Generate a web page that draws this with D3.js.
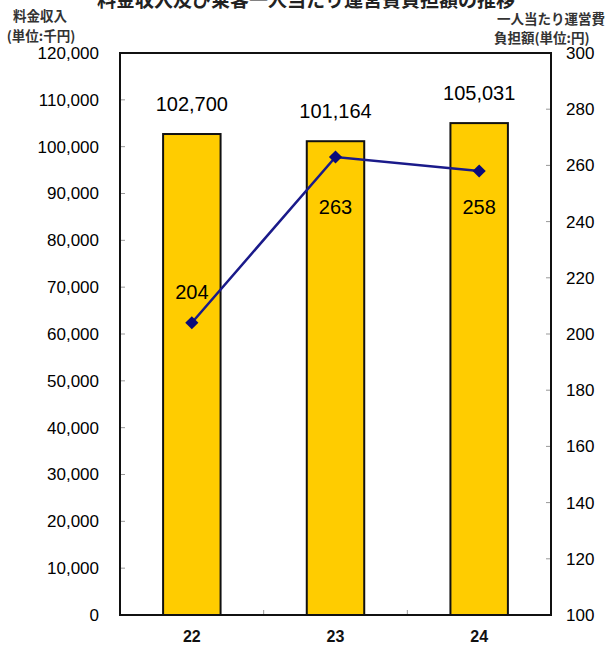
<!DOCTYPE html>
<html>
<head>
<meta charset="utf-8">
<script src="https://cdn.jsdelivr.net/npm/d3@7"></script>
<style>
  body { margin: 0; background: #fff; }
  svg { display: block; }
</style>
</head>
<body>
<svg id="chart"></svg>
<script>
// DATA
const years = ["22", "23", "24"];
const revenue = [102700, 101164, 105031];      // 料金収入 (千円)
const perPerson = [204, 263, 258];             // 一人当たり運営費負担額 (円)
const leftTicks = [0, 10000, 20000, 30000, 40000, 50000, 60000, 70000, 80000, 90000, 100000, 110000, 120000];
const rightTicks = [100, 120, 140, 160, 180, 200, 220, 240, 260, 280, 300];

// label offsets for the line values (px, relative to point)
const lineLabelDy = [-31, 50, 36];

const W = 608, H = 645;
const margin = { top: 53, right: 57, bottom: 30, left: 120 };
const width = W - margin.left - margin.right;
const height = H - margin.top - margin.bottom;
const numFont = "Liberation Sans, Arial, sans-serif";
const jpFont = "'Noto Sans CJK JP', sans-serif";

const svg = d3.select("#chart").attr("width", W).attr("height", H);

//TITLE (cut at top edge like the source image)
svg.append("text")
  .attr("x", 306).attr("y", 7)
  .attr("text-anchor", "middle")
  .style("font-family", jpFont).style("font-weight", "bold")
  .style("font-size", "19px").style("fill", "#222")
  .text("料金収入及び乗客一人当たり運営費負担額の推移");

//AXIS TITLES
function axisTitle(x, y, anchor, txt) {
  svg.append("text").attr("x", x).attr("y", y).attr("text-anchor", anchor)
    .style("font-family", jpFont).style("font-weight", "bold")
    .style("font-size", "13.5px").style("fill", "#333")
    .text(txt);
}
axisTitle(40, 21, "middle", "料金収入");
axisTitle(41, 41, "middle", "(単位:千円)");
axisTitle(605, 24, "end", "一人当たり運営費");
axisTitle(494, 43, "start", "負担額(単位:円)");

const g = svg.append("g").attr("transform", "translate(" + margin.left + "," + margin.top + ")");

//SCALES
const x = d3.scaleBand().domain(years).range([0, width]).paddingInner(0.6).paddingOuter(0.3);
const yL = d3.scaleLinear().domain([0, 120000]).range([height, 0]);
const yR = d3.scaleLinear().domain([100, 300]).range([height, 0]);

//LEFT AXIS
const left = g.append("g")
  .call(d3.axisLeft(yL).tickValues(leftTicks).tickSize(0).tickPadding(21).tickFormat(d3.format(",")));
left.select(".domain").remove();
left.selectAll("text").style("font-family", numFont).style("font-size", "17px").style("fill", "#000");
g.append("g").selectAll("line").data(leftTicks).enter().append("line")
  .attr("x1", 0).attr("x2", 5).attr("y1", d => yL(d)).attr("y2", d => yL(d))
  .attr("stroke", "#999").attr("stroke-width", 1);

//RIGHT AXIS
const right = g.append("g").attr("transform", "translate(" + width + ",0)")
  .call(d3.axisRight(yR).tickValues(rightTicks).tickSize(0).tickPadding(15));
right.select(".domain").remove();
right.selectAll("text").style("font-family", numFont).style("font-size", "17px").style("fill", "#000");
g.append("g").selectAll("line").data(rightTicks).enter().append("line")
  .attr("x1", width - 5).attr("x2", width).attr("y1", d => yR(d)).attr("y2", d => yR(d))
  .attr("stroke", "#999").attr("stroke-width", 1);

//BOTTOM AXIS
const bottom = g.append("g").attr("transform", "translate(0," + height + ")")
  .call(d3.axisBottom(x).tickSize(0).tickPadding(16));
bottom.select(".domain").remove();
bottom.selectAll("text").style("font-family", numFont).style("font-size", "16px")
  .style("font-weight", "bold").style("fill", "#111");
// category separator ticks
g.append("g").selectAll("line").data(years.slice(1)).enter().append("line")
  .attr("x1", d => x(d) - x.step() * x.paddingInner() / 2)
  .attr("x2", d => x(d) - x.step() * x.paddingInner() / 2)
  .attr("y1", height).attr("y2", height - 5)
  .attr("stroke", "#999").attr("stroke-width", 1);

//BARS
g.selectAll(".bar").data(revenue).enter().append("rect")
  .attr("class", "bar")
  .attr("x", (d, i) => x(years[i]))
  .attr("y", d => yL(d))
  .attr("width", x.bandwidth())
  .attr("height", d => height - yL(d))
  .attr("fill", "#FFCC00")
  .attr("stroke", "#111")
  .attr("stroke-width", 2);

//FRAME
g.append("rect").attr("x", 0).attr("y", 0).attr("width", width).attr("height", height)
  .attr("fill", "none").attr("stroke", "#111").attr("stroke-width", 2);

//BAR LABELS
g.selectAll(".barlabel").data(revenue).enter().append("text")
  .attr("x", (d, i) => x(years[i]) + x.bandwidth() / 2)
  .attr("y", d => yL(d) - 23)
  .attr("text-anchor", "middle")
  .style("font-family", numFont).style("font-size", "20px").style("fill", "#000")
  .text(d => d3.format(",")(d));

//LINE
const line = d3.line()
  .x((d, i) => x(years[i]) + x.bandwidth() / 2)
  .y(d => yR(d));
g.append("path").datum(perPerson)
  .attr("fill", "none").attr("stroke", "#1a1a8a").attr("stroke-width", 2.5)
  .attr("d", line);

g.selectAll(".marker").data(perPerson).enter().append("path")
  .attr("transform", (d, i) => "translate(" + (x(years[i]) + x.bandwidth() / 2) + "," + yR(d) + ")")
  .attr("d", d3.symbol().type(d3.symbolDiamond2).size(110))
  .attr("fill", "#0a0a7a");

//LINE LABELS
g.selectAll(".linelabel").data(perPerson).enter().append("text")
  .attr("x", (d, i) => x(years[i]) + x.bandwidth() / 2)
  .attr("y", (d, i) => yR(d) + lineLabelDy[i] + 7)
  .attr("text-anchor", "middle")
  .style("font-family", numFont).style("font-size", "20px").style("fill", "#000")
  .text(d => d);
</script>
</body>
</html>
